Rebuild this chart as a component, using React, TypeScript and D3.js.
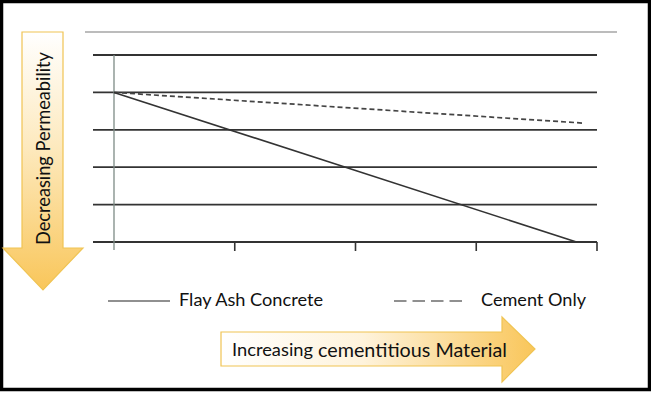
import React from 'react';
import * as d3 from 'd3';

const WIDTH = 651;
const HEIGHT = 393;

// x: amount of cementitious material (tick positions), y: permeability level (gridlines)
const xTicks = [0, 1, 2, 3, 4];
const yTicks = [0, 1, 2, 3, 4, 5];

const flyAshX = [0, 3.83];
const flyAshY = [4, 0];
const cementX = [0, 3.88];
const cementY = [4, 3.18];

const legendLabels = ['Flay Ash Concrete', 'Cement Only'];

const FONT = 'Lato, "Open Sans", sans-serif';

const App = () => {
  const xScale = d3.scaleLinear().domain([0, 4]).range([114, 597]);
  const yScale = d3.scaleLinear().domain([0, 5]).range([242, 55]);

  const line = d3
    .line<[number, number]>()
    .x((d) => xScale(d[0]))
    .y((d) => yScale(d[1]));

  const flyAsh = flyAshX.map((x, i) => [x, flyAshY[i]] as [number, number]);
  const cement = cementX.map((x, i) => [x, cementY[i]] as [number, number]);

  return (
    <svg
      width={WIDTH}
      height={HEIGHT}
      viewBox={`0 0 ${WIDTH} ${HEIGHT}`}
      style={{ position: 'absolute', left: 0, top: 0, background: '#fff' }}
    >
      <defs>
        <linearGradient id="downGrad" x1="0" y1="0" x2="0" y2="1">
          <stop offset="0" stopColor="#ffffff" />
          <stop offset="0.45" stopColor="#fde9bd" />
          <stop offset="1" stopColor="#f9c65a" />
        </linearGradient>
        <linearGradient id="rightGrad" x1="0" y1="0" x2="1" y2="0">
          <stop offset="0" stopColor="#ffffff" />
          <stop offset="0.45" stopColor="#fef3dc" />
          <stop offset="1" stopColor="#f9c65a" />
        </linearGradient>
      </defs>

      {/* frame */}
      <rect x={1.5} y={1.5} width={WIDTH - 3} height={HEIGHT - 5} fill="none" stroke="#000" strokeWidth={3.5} />

      {/* top rule */}
      <line x1={85} x2={617} y1={32} y2={32} stroke="#7a7a7a" strokeWidth={1.2} />

      {/* gridlines */}
      {yTicks.map((t) => (
        <line
          key={t}
          x1={93}
          x2={597}
          y1={yScale(t)}
          y2={yScale(t)}
          stroke="#333"
          strokeWidth={1.8}
        />
      ))}

      {/* vertical axis */}
      <line x1={xScale(0)} x2={xScale(0)} y1={yScale(5)} y2={250} stroke="#7d8b86" strokeWidth={1.3} />

      {/* ticks */}
      {xTicks.slice(1).map((t) => (
        <line key={t} x1={xScale(t)} x2={xScale(t)} y1={yScale(0)} y2={251} stroke="#333" strokeWidth={1.6} />
      ))}

      {/* series */}
      <path d={line(cement) || ''} fill="none" stroke="#444" strokeWidth={1.7} strokeDasharray="5 3" />
      <path d={line(flyAsh) || ''} fill="none" stroke="#333" strokeWidth={1.6} />

      {/* down arrow */}
      <path
        d="M22,32 L63,32 L63,248 L83,248 L43,290 L3,248 L22,248 Z"
        fill="url(#downGrad)"
        stroke="#f0c453"
        strokeWidth={1.2}
      />
      <text
        transform="translate(50,148.5) rotate(-90)"
        textAnchor="middle"
        fontFamily={FONT}
        fontSize={18.5}
        textLength={193}
        lengthAdjust="spacingAndGlyphs"
        fill="#111"
      >
        Decreasing Permeability
      </text>

      {/* legend */}
      <line x1={108} x2={170} y1={301} y2={301} stroke="#222" strokeWidth={1.2} />
      <text
        x={179}
        y={306}
        fontFamily={FONT}
        fontSize={17.5}
        textLength={144}
        lengthAdjust="spacingAndGlyphs"
        fill="#111"
      >
        {legendLabels[0]}
      </text>
      <line x1={394} x2={462} y1={301} y2={301} stroke="#222" strokeWidth={1.2} strokeDasharray="12.5 6" />
      <text
        x={481}
        y={306}
        fontFamily={FONT}
        fontSize={17.5}
        textLength={105}
        lengthAdjust="spacingAndGlyphs"
        fill="#111"
      >
        {legendLabels[1]}
      </text>

      {/* right arrow */}
      <path
        d="M221,332 L502,332 L502,317 L535,349 L502,382 L502,366 L221,366 Z"
        fill="url(#rightGrad)"
        stroke="#f0c453"
        strokeWidth={1.2}
      />
      <text
        x={232}
        y={356}
        fontFamily={FONT}
        fontSize={16.5}
        textLength={81}
        lengthAdjust="spacingAndGlyphs"
        fill="#111"
      >
        Increasing
      </text>
      <text
        x={318}
        y={357}
        fontFamily={FONT}
        fontSize={19.5}
        textLength={189}
        lengthAdjust="spacingAndGlyphs"
        fill="#111"
      >
        cementitious Material
      </text>
    </svg>
  );
};

export default App;
